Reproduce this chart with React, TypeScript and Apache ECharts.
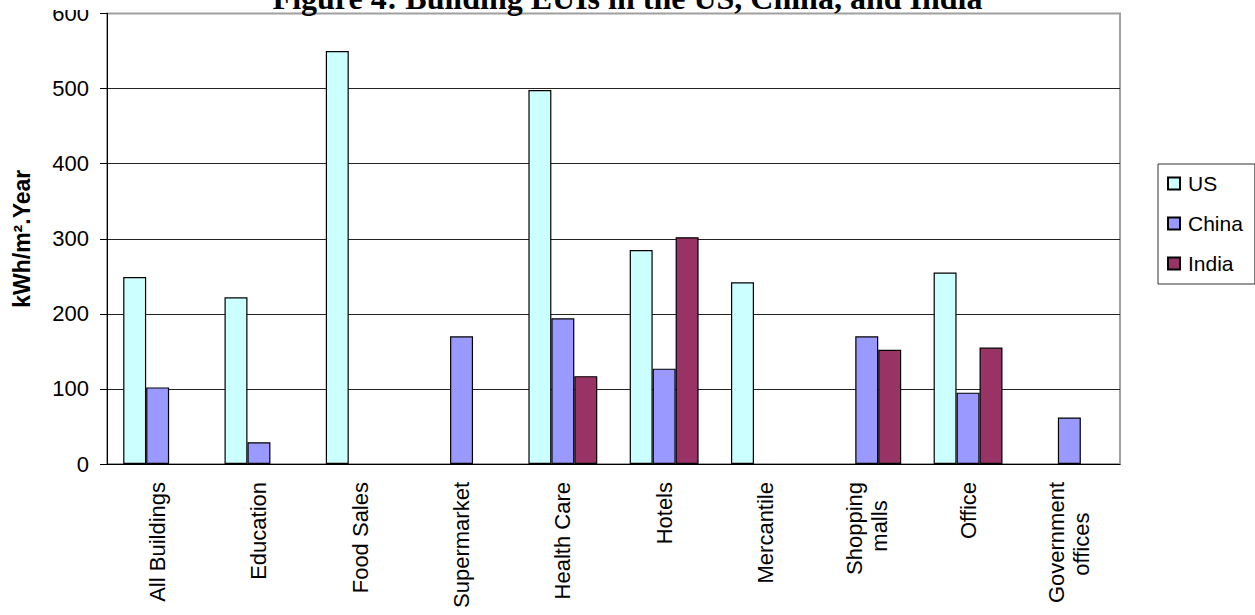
import React, { useEffect, useRef } from "react";
import * as echarts from "echarts";

const categories = [
  "All Buildings",
  "Education",
  "Food Sales",
  "Supermarket",
  "Health Care",
  "Hotels",
  "Mercantile",
  "Shopping\nmalls",
  "Office",
  "Government\noffices",
];
const usValues = [249, 222, 550, null, 498, 285, 242, null, 255, null];
const chinaValues = [102, 29, null, 170, 194, 127, null, 170, 95, 62];
const indiaValues = [null, null, null, null, 117, 302, null, 152, 155, null];
const yTicks = [0, 100, 200, 300, 400, 500, 600];

const titleText = "Figure 4: Building EUIs in the US, China, and India";
const yAxisName = "kWh/m².Year";

const NB = "\u00a0";
const labelPadding: Record<string, number> = {
  "Shopping\nmalls": 3,
  "Government\noffices": 5,
};

export default function App() {
  const ref = useRef<HTMLDivElement>(null);
  useEffect(() => {
    if (!ref.current) return;
    const chart = echarts.init(ref.current, null, { renderer: "svg" });
    const font = "'Liberation Sans', Arial, sans-serif";
    const bar = (name: string, data: (number | null)[], color: string) => ({
      name,
      type: "bar",
      data,
      barGap: "0%",
      barCategoryGap: "32%",
      itemStyle: { color, borderColor: "#000", borderWidth: 1.2 },
    });
    chart.setOption({
      animation: false,
      backgroundColor: "#fff",
      title: {
        text: titleText,
        left: "center",
        top: -18,
        padding: 0,
        textStyle: {
          fontFamily: "'Liberation Serif', 'Times New Roman', serif",
          fontWeight: "bold",
          fontSize: 32,
          color: "#000",
        },
      },
      graphic: [
        {
          type: "rect",
          left: 30,
          top: 0,
          shape: { width: 70, height: 10 },
          style: { fill: "#fff" },
          z: 100,
        },
      ],
      legend: {
        orient: "vertical",
        left: 1158,
        top: 164,
        padding: [9, 12, 10, 9],
        itemWidth: 12,
        itemHeight: 12,
        itemGap: 19,
        icon: "rect",
        borderColor: "#333",
        borderWidth: 1,
        textStyle: { fontFamily: font, fontSize: 21, color: "#000", padding: [0, 0, 0, 3] },
        data: ["US", "China", "India"],
      },
      grid: {
        left: 107,
        right: 135,
        top: 13.5,
        bottom: 151,
        show: true,
        borderColor: "#a0a0a0",
        borderWidth: 2,
      },
      xAxis: {
        type: "category",
        data: categories,
        axisLine: { lineStyle: { color: "#000", width: 1 } },
        axisTick: { length: 7, lineStyle: { color: "#000" } },
        axisLabel: {
          rotate: 90,
          margin: 18,
          interval: 0,
          fontFamily: font,
          fontSize: 22,
          lineHeight: 25,
          color: "#000",
          formatter: (v: string) => {
            const pad = labelPadding[v];
            if (!pad) return v;
            const parts = v.split("\n");
            return parts[0] + "\n" + parts[1] + NB.repeat(pad);
          },
        },
      },
      yAxis: {
        type: "value",
        min: yTicks[0],
        max: yTicks[yTicks.length - 1],
        interval: 100,
        name: yAxisName,
        nameLocation: "middle",
        nameGap: 74,
        nameTextStyle: {
          fontFamily: font,
          fontWeight: "bold",
          fontSize: 23,
          color: "#000",
        },
        axisLine: { show: true, lineStyle: { color: "#000", width: 1 } },
        axisTick: { show: true, length: 7, lineStyle: { color: "#000" } },
        axisLabel: {
          margin: 18,
          fontFamily: font,
          fontSize: 22,
          color: "#000",
        },
        splitLine: {
          lineStyle: {
            color: ["#222", "#222", "#222", "#222", "#222", "#222", "#a0a0a0"],
            width: 1.2,
          },
        },
      },
      series: [
        bar("US", usValues, "#CCFFFF"),
        bar("China", chinaValues, "#9999FF"),
        bar("India", indiaValues, "#993366"),
      ],
    });
    return () => chart.dispose();
  }, []);
  return (
    <div
      ref={ref}
      style={{ position: "absolute", left: 0, top: 0, width: 1255, height: 615, background: "#fff" }}
    />
  );
}
